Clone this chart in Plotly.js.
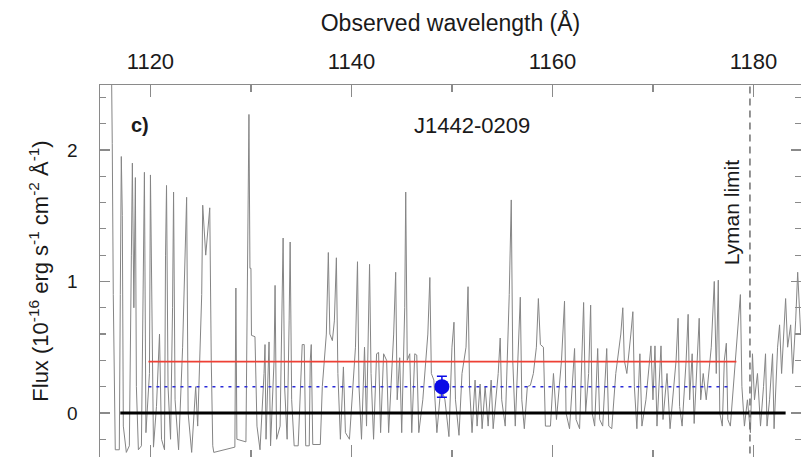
<!DOCTYPE html>
<html>
<head>
<meta charset="utf-8">
<script src="https://cdn.plot.ly/plotly-3.0.1.min.js"></script>
<style>html,body{margin:0;padding:0;background:#fff;}#chart{width:801px;height:457px;}</style>
</head>
<body>
<div id="chart"></div>
<script>
// Spectrum: observed wavelength (Å) and flux (1e-16 erg/s/cm2/Å)
const wavelength = [
1115.0,1116.1,1116.2,1116.3,1116.5,1116.9,1117.0,1117.1,1117.2,1117.3,1117.6,1117.9,
1118.1,1118.2,1118.35,1118.5,1118.6,1118.8,1119.1,1119.3,1119.4,1119.55,1119.9,1120.0,
1120.1,1120.3,1120.6,1120.9,1121.1,1121.4,1121.5,1121.6,1121.75,1122.0,1122.2,1122.3,
1122.45,1122.8,1123.2,1123.5,1123.6,1123.75,1124.1,1124.5,1124.7,1125.1,1125.2,1125.5,
1125.9,1126.05,1126.2,1126.3,1128.4,1128.5,1128.6,1129.5,1129.7,1129.8,1129.9,1130.0,
1130.05,1130.4,1130.6,1130.9,1131.3,1131.4,1131.5,1131.8,1131.95,1132.3,1132.4,1132.55,
1132.9,1133.1,1133.2,1133.35,1133.6,1133.8,1133.9,1134.05,1134.3,1134.7,1135.0,1135.1,
1135.3,1135.45,1135.8,1135.9,1136.0,1136.15,1136.9,1137.1,1137.5,1137.7,1137.85,1138.1,
1138.3,1138.5,1138.65,1138.9,1139.2,1139.4,1139.8,1140.4,1140.6,1140.75,1141.0,1141.3,
1141.5,1141.7,1141.8,1141.95,1142.2,1142.5,1142.7,1142.9,1143.2,1143.5,1143.7,1144.2,
1144.4,1144.55,1144.8,1145.0,1145.3,1145.4,1145.55,1145.8,1146.0,1146.3,1146.5,1146.7,
1147.1,1147.6,1147.8,1147.95,1148.2,1148.5,1148.9,1149.3,1149.7,1150.0,1150.2,1150.35,
1150.7,1151.0,1151.4,1151.6,1151.75,1152.0,1152.3,1152.5,1152.8,1153.0,1153.3,1153.6,
1153.9,1154.1,1154.6,1154.8,1154.95,1155.3,1155.7,1155.9,1156.05,1156.3,1156.6,1156.8,
1156.95,1157.2,1157.5,1157.8,1158.1,1158.4,1158.6,1158.8,1159.1,1159.3,1159.8,1160.1,
1160.4,1160.9,1161.2,1161.35,1161.7,1162.0,1162.2,1162.35,1162.7,1163.0,1163.1,1163.3,
1163.6,1163.8,1163.95,1164.2,1164.5,1164.7,1165.0,1165.4,1165.6,1165.9,1166.3,1166.8,
1167.0,1167.15,1167.4,1167.8,1168.0,1168.15,1168.4,1168.7,1168.9,1169.3,1169.8,1170.0,
1170.2,1170.4,1170.8,1171.0,1171.4,1171.7,1172.3,1172.5,1172.65,1172.9,1173.3,1173.5,
1173.65,1173.9,1174.1,1174.4,1174.6,1174.75,1175.0,1175.3,1175.8,1176.1,1176.3,1176.5,
1176.65,1176.9,1177.1,1177.3,1177.45,1177.7,1178.3,1178.7,1178.85,1179.1,1179.4,1179.7,
1179.9,1180.1,1180.4,1180.7,1181.0,1181.2,1181.35,1181.6,1181.9,1182.05,1182.4,1182.6,
1182.8,1183.0,1183.2,1183.4,1183.7,1183.9,1184.2,1184.4,1184.7
];
const flux = [
2.8,2.8,2.05,0.9,-0.28,-0.28,0.9,1.95,1.5,-0.1,-0.3,-0.25,
1.2,1.90,0.8,1.79,0.2,-0.28,-0.25,1.3,1.83,-0.15,0.3,1.81,
0.9,-0.26,0.05,0.6,-0.2,-0.28,1.2,1.73,0.2,-0.2,0.8,1.68,
0.1,-0.28,0.5,1.4,1.64,0.0,-0.3,0.2,-0.1,0.9,1.58,1.2,
1.56,0.4,-0.25,-0.3,-0.26,0.95,-0.2,-0.22,1.2,2.27,1.1,1.1,
0.59,0.58,-0.1,-0.28,0.3,0.52,-0.2,0.54,-0.25,0.4,0.97,-0.2,
-0.1,0.8,1.33,0.2,-0.2,0.7,1.30,0.1,-0.25,-0.25,0.3,0.52,
0.52,-0.25,-0.25,0.4,0.52,-0.24,-0.24,0.2,0.6,1.22,0.6,0.55,
0.7,1.18,0.3,-0.2,0.35,-0.15,-0.2,0.5,1.15,0.2,-0.2,0.5,
-0.1,0.6,1.13,0.3,-0.2,0.45,0.46,-0.15,0.45,0.4,-0.15,0.6,
1.07,0.1,0.42,-0.15,0.8,1.68,0.4,0.45,-0.15,0.45,0.44,-0.15,
0.1,0.6,1.03,0.3,0.25,-0.15,0.2,0.1,-0.18,0.5,0.69,0.1,
-0.17,0.3,0.5,0.96,0.2,-0.15,0.25,-0.1,0.22,-0.12,0.2,-0.1,
0.25,-0.12,0.3,0.57,0.1,-0.1,0.9,1.62,0.4,-0.1,0.5,0.88,
0.1,-0.12,0.2,0.21,0.3,0.5,0.87,0.52,0.5,-0.1,-0.1,0.3,
-0.05,0.4,0.85,0.0,-0.12,0.3,0.49,-0.05,-0.12,0.6,0.84,0.0,
0.3,0.82,0.0,-0.1,0.49,-0.05,-0.1,0.49,-0.1,-0.12,0.3,0.6,
0.80,0.4,0.3,0.6,0.77,0.2,-0.12,0.45,-0.1,0.1,0.51,0.1,
0.51,-0.1,0.51,-0.05,0.3,-0.12,0.4,0.72,0.05,-0.1,0.4,0.75,
0.1,0.45,-0.08,0.4,0.72,0.1,0.3,0.1,0.5,1.0,0.3,1.01,
0.0,-0.1,0.4,0.53,-0.05,-0.1,0.5,0.90,0.2,-0.1,0.1,-0.15,
0.45,0.1,0.3,-0.1,0.2,0.45,-0.1,0.1,0.45,-0.12,0.5,0.67,
0.3,0.6,0.87,0.5,0.67,0.3,0.7,1.07,0.6
];

// Reference levels
const zeroLine = {x: [1117.0, 1183.2], y: [0, 0]};
const redLevel = {x: [1119.8, 1178.3], y: [0.39, 0.39]};
const blueLevel = {x: [1119.8, 1177.7], y: [0.2, 0.2]};
const meanPoint = {x: [1149.0], y: [0.2], err: [0.08]};
const lymanLimit = 1179.65;

const xTickVals = [1120, 1140, 1160, 1180];
const yTickVals = [0, 1, 2];

const traces = [
  {x: wavelength, y: flux, type: 'scatter', mode: 'lines',
   line: {color: '#858585', width: 1}, hoverinfo: 'x+y'},
  {x: zeroLine.x, y: zeroLine.y, type: 'scatter', mode: 'lines',
   line: {color: '#000000', width: 3}},
  {x: redLevel.x, y: redLevel.y, type: 'scatter', mode: 'lines',
   line: {color: '#ee4035', width: 1.6}},
  {x: blueLevel.x, y: blueLevel.y, type: 'scatter', mode: 'lines',
   line: {color: '#2a2ad8', width: 1.5, dash: '3px,5px'}},
  {x: [lymanLimit, lymanLimit], y: [-0.4, 2.6], type: 'scatter', mode: 'lines',
   line: {color: '#707070', width: 1.5, dash: '7px,5px'}},
  {x: meanPoint.x, y: meanPoint.y, type: 'scatter', mode: 'markers',
   marker: {color: '#0a0ae6', size: 15},
   error_y: {type: 'data', array: meanPoint.err, visible: true, color: '#0a0ae6', thickness: 1.5, width: 5}}
];

const FAM = 'Liberation Sans, Arial, sans-serif';
const INK = '#1a1a1a';

const layout = {
  width: 801, height: 457,
  margin: {l: 100, r: 0, t: 85, b: 0, pad: 0},
  paper_bgcolor: '#ffffff', plot_bgcolor: '#ffffff',
  showlegend: false,
  xaxis: {
    side: 'top', range: [1114.98, 1184.73],
    tickvals: xTickVals, ticktext: xTickVals.map(String),
    ticks: 'inside', ticklen: 12, tickwidth: 1.2, tickcolor: '#8a8a8a',
    minor: {dtick: 10, tick0: 1110, ticks: 'inside', ticklen: 7, tickcolor: '#8a8a8a', showgrid: false},
    showline: true, linecolor: '#8a8a8a', linewidth: 1.5, mirror: 'ticks',
    showgrid: false, zeroline: false,
    tickfont: {family: FAM, size: 22, color: INK}, ticklabelstandoff: 6,
    title: {text: 'Observed wavelength (Å)', font: {family: FAM, size: 23, color: INK}, standoff: 10}
  },
  yaxis: {
    range: [-0.335, 2.494],
    tickvals: yTickVals, ticktext: yTickVals.map(String),
    ticks: 'inside', ticklen: 10, tickwidth: 1.2, tickcolor: '#8a8a8a',
    minor: {dtick: 0.2, tick0: 0, ticks: 'inside', ticklen: 6, tickcolor: '#8a8a8a', showgrid: false},
    showline: true, linecolor: '#8a8a8a', linewidth: 1.5, mirror: 'ticks',
    showgrid: false, zeroline: false,
    tickfont: {family: FAM, size: 19, color: INK}, ticklabelstandoff: 17,
    title: {text: 'Flux (10<sup>-16</sup> erg s<sup>-1</sup> cm<sup>-2</sup> Å<sup>-1</sup>)', font: {family: FAM, size: 22, color: INK}, standoff: 12}
  },
  annotations: [
    {text: '<b>c)</b>', xref: 'paper', yref: 'paper', x: 40/701, y: 1 - 40/372, xanchor: 'center', yanchor: 'middle',
     showarrow: false, font: {family: FAM, size: 20, color: INK}},
    {text: 'J1442-0209', xref: 'paper', yref: 'paper', x: 372/701, y: 1 - 40/372, xanchor: 'center', yanchor: 'middle',
     showarrow: false, font: {family: FAM, size: 22, color: INK}},
    {text: 'Lyman limit', xref: 'x', yref: 'paper', x: lymanLimit - 1.75, y: 1 - 127/372, xanchor: 'center', yanchor: 'middle',
     textangle: -90, showarrow: false, font: {family: FAM, size: 21, color: INK}}
  ]
};

Plotly.newPlot('chart', traces, layout, {displayModeBar: false, staticPlot: true});
</script>
</body>
</html>
